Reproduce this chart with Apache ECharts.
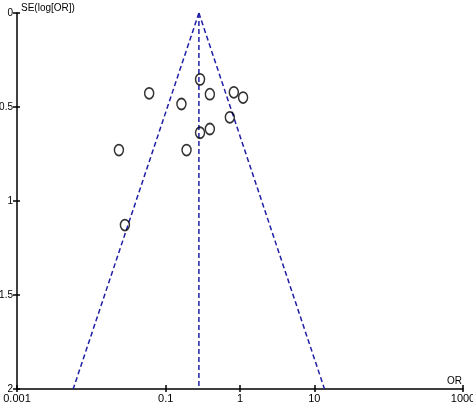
<!DOCTYPE html>
<html>
<head>
<meta charset="utf-8">
<script src="https://cdn.jsdelivr.net/npm/echarts@6/dist/echarts.min.js"></script>
<style>
  html, body { margin: 0; padding: 0; background: #fff; }
  #chart { width: 473px; height: 407px; }
</style>
</head>
<body>
<div id="chart"></div>
<script>
// study estimates
const orValues = [0.29, 0.06, 0.163, 0.393, 0.826, 1.10, 0.73, 0.393, 0.29, 0.0235, 0.191, 0.0283];
const seValues = [0.353, 0.427, 0.484, 0.432, 0.422, 0.45, 0.555, 0.617, 0.637, 0.729, 0.729, 1.128];

// pooled estimate and 95% limits at SE = 2
const pooledOR = 0.28;
const lowerAtMax = 0.0057;
const upperAtMax = 13.7;

const xTicks = [0.001, 0.1, 1, 10, 1000];

const font = 'Liberation Sans, Arial, sans-serif';
const blue = '#1f1fa6';

const points = orValues.map((v, i) => [v, seValues[i]]);

const chart = echarts.init(document.getElementById('chart'));

const dashed = { color: blue, width: 1.5, type: [5, 3] };
const tickStyle = { color: '#000', width: 1.5 };

chart.setOption({
  animation: false,
  grid: { left: 17, top: 13, right: 10, bottom: 18, outerBoundsMode: 'none', containLabel: false },
  xAxis: [{
    type: 'log',
    logBase: 10,
    position: 'bottom',
    min: xTicks[0],
    max: xTicks[xTicks.length - 1],
    name: 'OR',
    nameLocation: 'end',
    nameGap: -1,
    nameTextStyle: { color: '#000', fontFamily: font, fontSize: 10, align: 'right', verticalAlign: 'bottom', padding: [0, 0, 3, 0] },
    axisLine: { onZero: false, lineStyle: { color: '#000', width: 1.5 } },
    axisTick: { length: 3, customValues: xTicks, lineStyle: tickStyle },
    axisLabel: { customValues: xTicks, color: '#000', fontFamily: font, fontSize: 11, margin: 4, formatter: v => String(v) },
    splitLine: { show: false }
  }, {
    type: 'log',
    logBase: 10,
    position: 'bottom',
    min: xTicks[0],
    max: xTicks[xTicks.length - 1],
    axisLine: { show: false, onZero: false },
    axisTick: { inside: true, length: 4, customValues: xTicks, lineStyle: tickStyle },
    axisLabel: { show: false },
    splitLine: { show: false }
  }],
  yAxis: [{
    type: 'value',
    inverse: true,
    min: 0,
    max: 2,
    interval: 0.5,
    name: 'SE(log[OR])',
    nameLocation: 'start',
    nameGap: 5,
    nameTextStyle: { color: '#000', fontFamily: font, fontSize: 10, align: 'left', verticalAlign: 'middle', padding: [0, 0, 0, 4] },
    axisLine: { show: true, onZero: false, lineStyle: { color: '#000', width: 1.5 } },
    axisTick: { show: true, length: 4, lineStyle: tickStyle },
    axisLabel: { color: '#000', fontFamily: font, fontSize: 10, margin: 4, formatter: v => String(v) },
    splitLine: { show: false }
  }, {
    type: 'value',
    position: 'left',
    inverse: true,
    min: 0,
    max: 2,
    interval: 0.5,
    axisLine: { show: false, onZero: false },
    axisTick: { show: true, inside: true, length: 3, lineStyle: tickStyle },
    axisLabel: { show: false },
    splitLine: { show: false }
  }],
  series: [
    {
      type: 'line',
      data: [[pooledOR, 0], [lowerAtMax, 2]],
      symbol: 'none',
      lineStyle: dashed,
      z: 2
    },
    {
      type: 'line',
      data: [[pooledOR, 0], [upperAtMax, 2]],
      symbol: 'none',
      lineStyle: dashed,
      z: 2
    },
    {
      type: 'line',
      data: [[pooledOR, 0], [pooledOR, 2]],
      symbol: 'none',
      lineStyle: dashed,
      z: 2
    },
    {
      type: 'scatter',
      data: points,
      symbol: 'circle',
      symbolSize: [9, 11],
      itemStyle: { color: 'rgba(255,255,255,0)', borderColor: '#000', borderWidth: 1.6 },
      z: 3
    }
  ]
});
</script>
</body>
</html>
